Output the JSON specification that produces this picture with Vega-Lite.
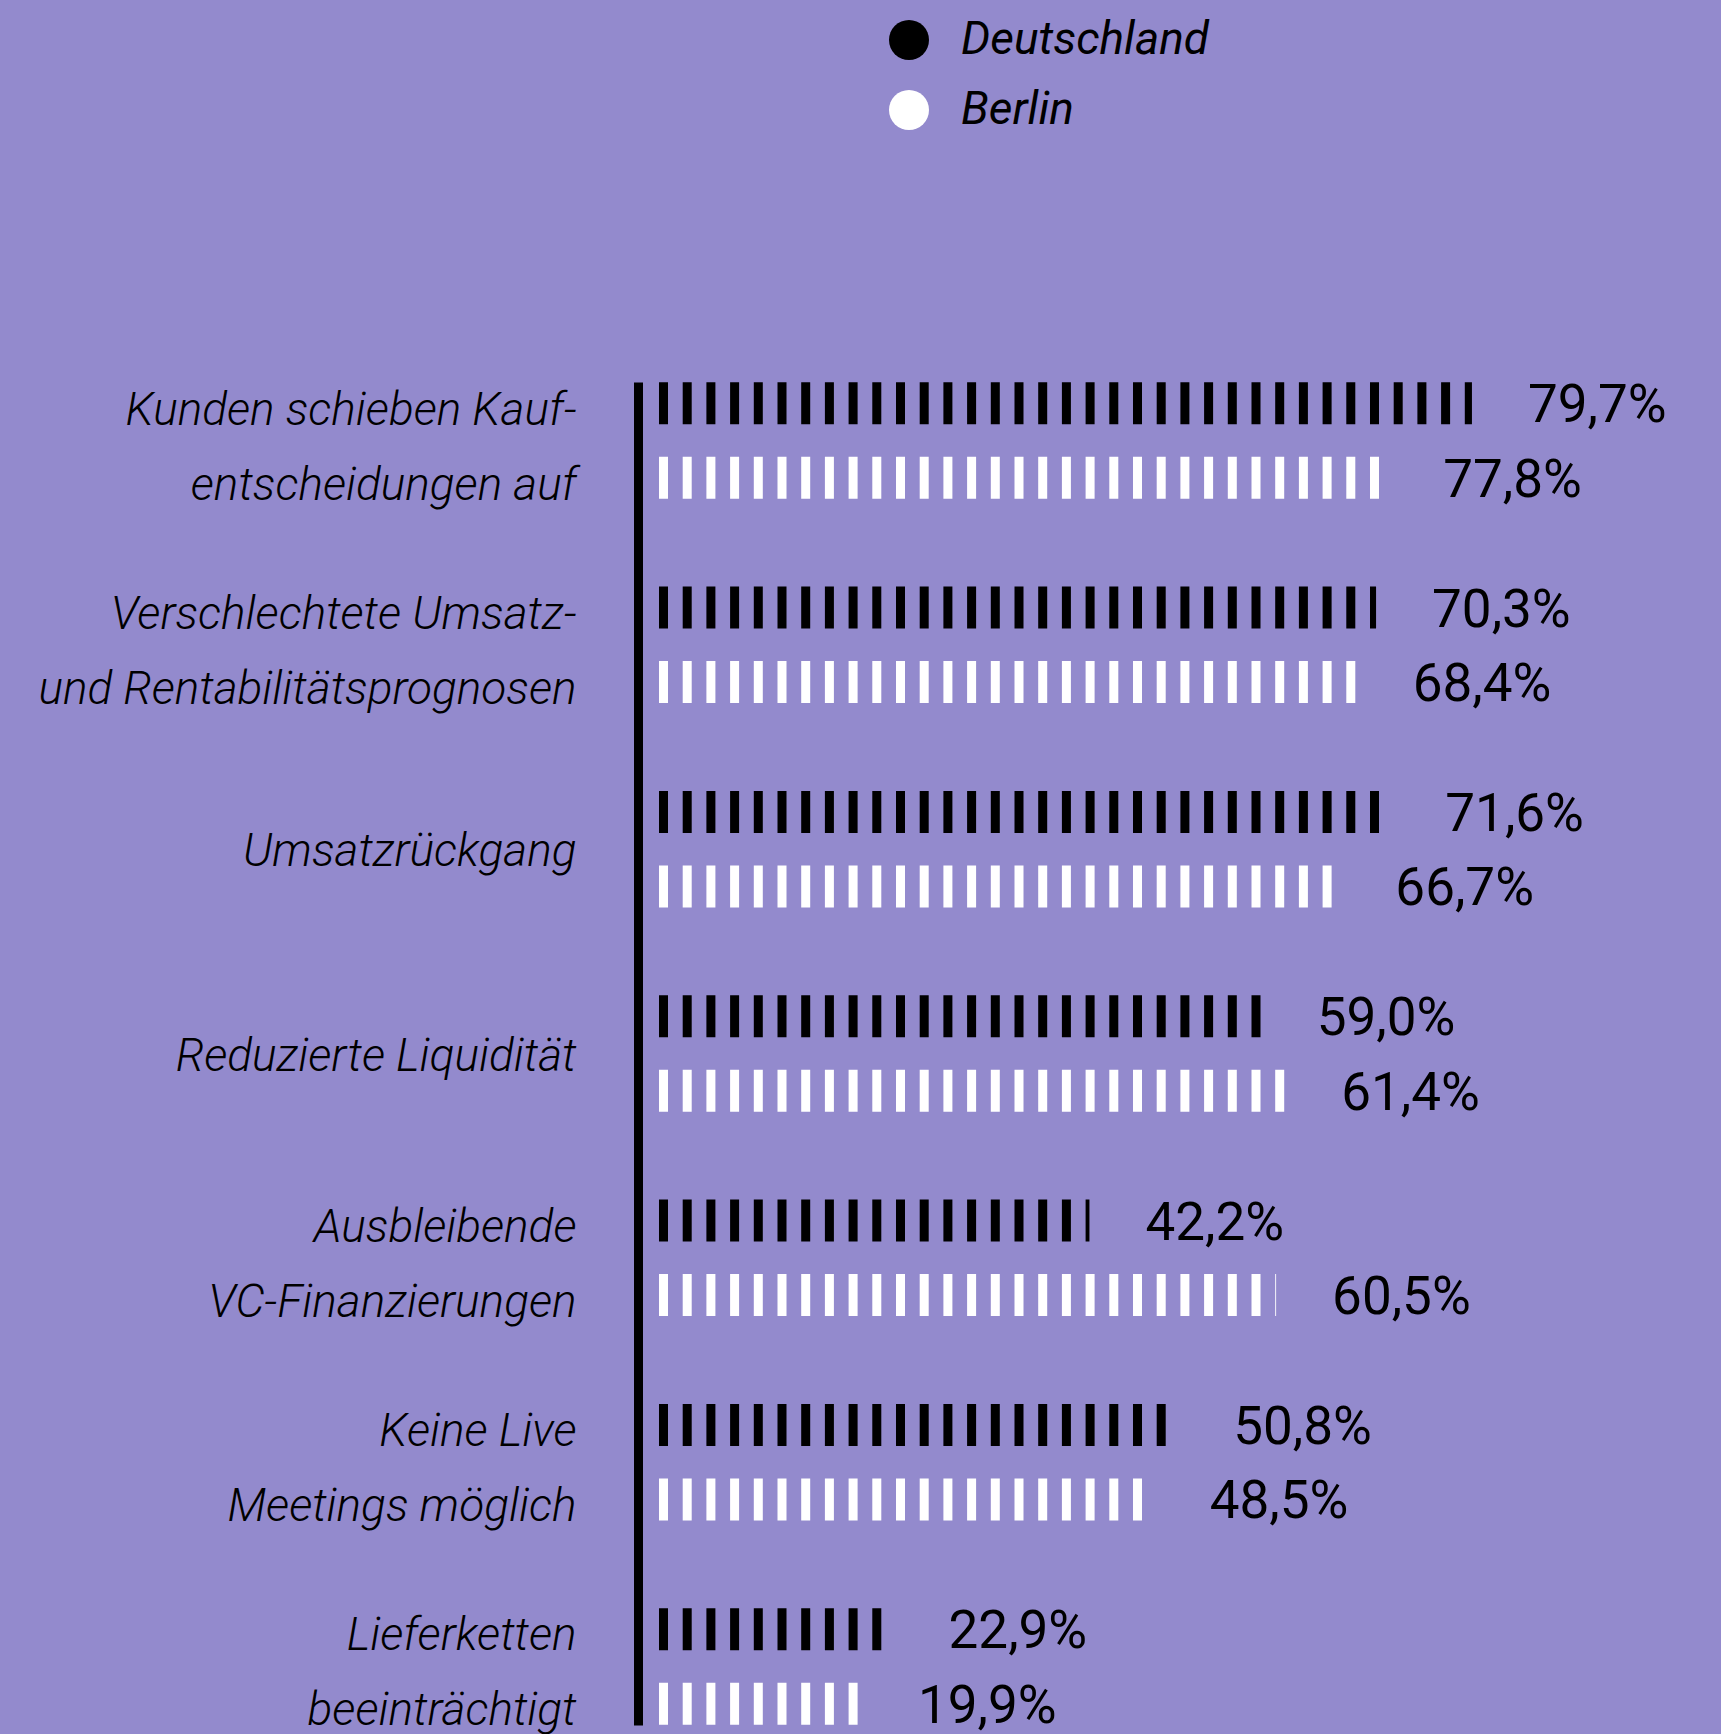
{
  "$schema": "https://vega.github.io/schema/vega-lite/v6.json",
  "width": 1020,
  "height": 1343,
  "autosize": {"type": "none"},
  "padding": {"left": 659, "top": 382, "right": 42, "bottom": 9},
  "background": "#938acd",
  "data": {
    "values": [
      {"category": "Kunden schieben Kauf-\nentscheidungen auf", "region": "Deutschland", "value": 79.7, "label": "79,7%"},
      {"category": "Kunden schieben Kauf-\nentscheidungen auf", "region": "Berlin", "value": 71.4, "label": "77,8%"},
      {"category": "Verschlechtete Umsatz-\nund Rentabilitätsprognosen", "region": "Deutschland", "value": 70.3, "label": "70,3%"},
      {"category": "Verschlechtete Umsatz-\nund Rentabilitätsprognosen", "region": "Berlin", "value": 68.4, "label": "68,4%"},
      {"category": "Umsatzrückgang", "region": "Deutschland", "value": 71.6, "label": "71,6%"},
      {"category": "Umsatzrückgang", "region": "Berlin", "value": 66.7, "label": "66,7%"},
      {"category": "Reduzierte Liquidität", "region": "Deutschland", "value": 59.0, "label": "59,0%"},
      {"category": "Reduzierte Liquidität", "region": "Berlin", "value": 61.4, "label": "61,4%"},
      {"category": "Ausbleibende\nVC-Finanzierungen", "region": "Deutschland", "value": 42.2, "label": "42,2%"},
      {"category": "Ausbleibende\nVC-Finanzierungen", "region": "Berlin", "value": 60.5, "label": "60,5%"},
      {"category": "Keine Live\nMeetings möglich", "region": "Deutschland", "value": 50.8, "label": "50,8%"},
      {"category": "Keine Live\nMeetings möglich", "region": "Berlin", "value": 48.5, "label": "48,5%"},
      {"category": "Lieferketten\nbeeinträchtigt", "region": "Deutschland", "value": 22.9, "label": "22,9%"},
      {"category": "Lieferketten\nbeeinträchtigt", "region": "Berlin", "value": 19.9, "label": "19,9%"}
    ]
  },
  "encoding": {
    "y": {
      "field": "category",
      "type": "nominal",
      "sort": null,
      "scale": {"paddingInner": 0.4274, "paddingOuter": 0},
      "axis": {
        "title": null,
        "domainColor": "black",
        "domainWidth": 9,
        "ticks": false,
        "tickSize": 0,
        "grid": false,
        "labelFont": "Roboto",
        "labelFontWeight": 300,
        "labelFontStyle": "italic",
        "labelFontSize": 46,
        "labelColor": "black",
        "labelLineHeight": 75,
        "labelPadding": 62,
        "labelLimit": 0,
        "offset": 21,
        "labelOffset": {"condition": {"test": "indexof(datum.value, '\\n') >= 0", "value": -30}, "value": 3},
        "labelExpr": "split(datum.value, '\\n')"
      }
    },
    "yOffset": {
      "field": "region",
      "type": "nominal",
      "sort": ["Deutschland", "Berlin"],
      "scale": {"paddingInner": 0.4295, "paddingOuter": 0}
    },
    "x": {"field": "value", "type": "quantitative", "scale": {"domain": [0, 100]}, "axis": null}
  },
  "layer": [
    {
      "mark": {
        "type": "rule",
        "orient": "horizontal",
        "strokeWidth": 42,
        "strokeDash": [9, 14.7],
        "strokeDashOffset": {"expr": "9 - scale('x', datum.value)"},
        "strokeCap": "butt"
      },
      "encoding": {
        "stroke": {
          "field": "region",
          "type": "nominal",
          "scale": {"domain": ["Deutschland", "Berlin"], "range": ["#000000", "#ffffff"]},
          "legend": null
        },
        "fill": {
          "field": "region",
          "type": "nominal",
          "scale": {"domain": ["Deutschland", "Berlin"], "range": ["#000000", "#ffffff"]},
          "legend": {
            "orient": "none",
            "legendX": 227,
            "legendY": -365,
            "padding": 0,
            "title": null,
            "symbolType": "circle",
            "symbolSize": 1600,
            "symbolStrokeWidth": 0,
            "symbolOpacity": 1,
            "labelFont": "Roboto",
            "labelFontStyle": "italic",
            "labelFontSize": 46,
            "labelColor": "black",
            "labelOffset": 29,
            "rowPadding": 24,
            "labelLimit": 0
          }
        }
      }
    },
    {
      "mark": {"type": "text", "align": "left", "baseline": "middle", "dx": 56, "dy": 3, "font": "Roboto", "fontSize": 53, "color": "black"},
      "encoding": {
        "text": {"field": "label"}
      }
    }
  ],
  "config": {"view": {"stroke": null}}
}
